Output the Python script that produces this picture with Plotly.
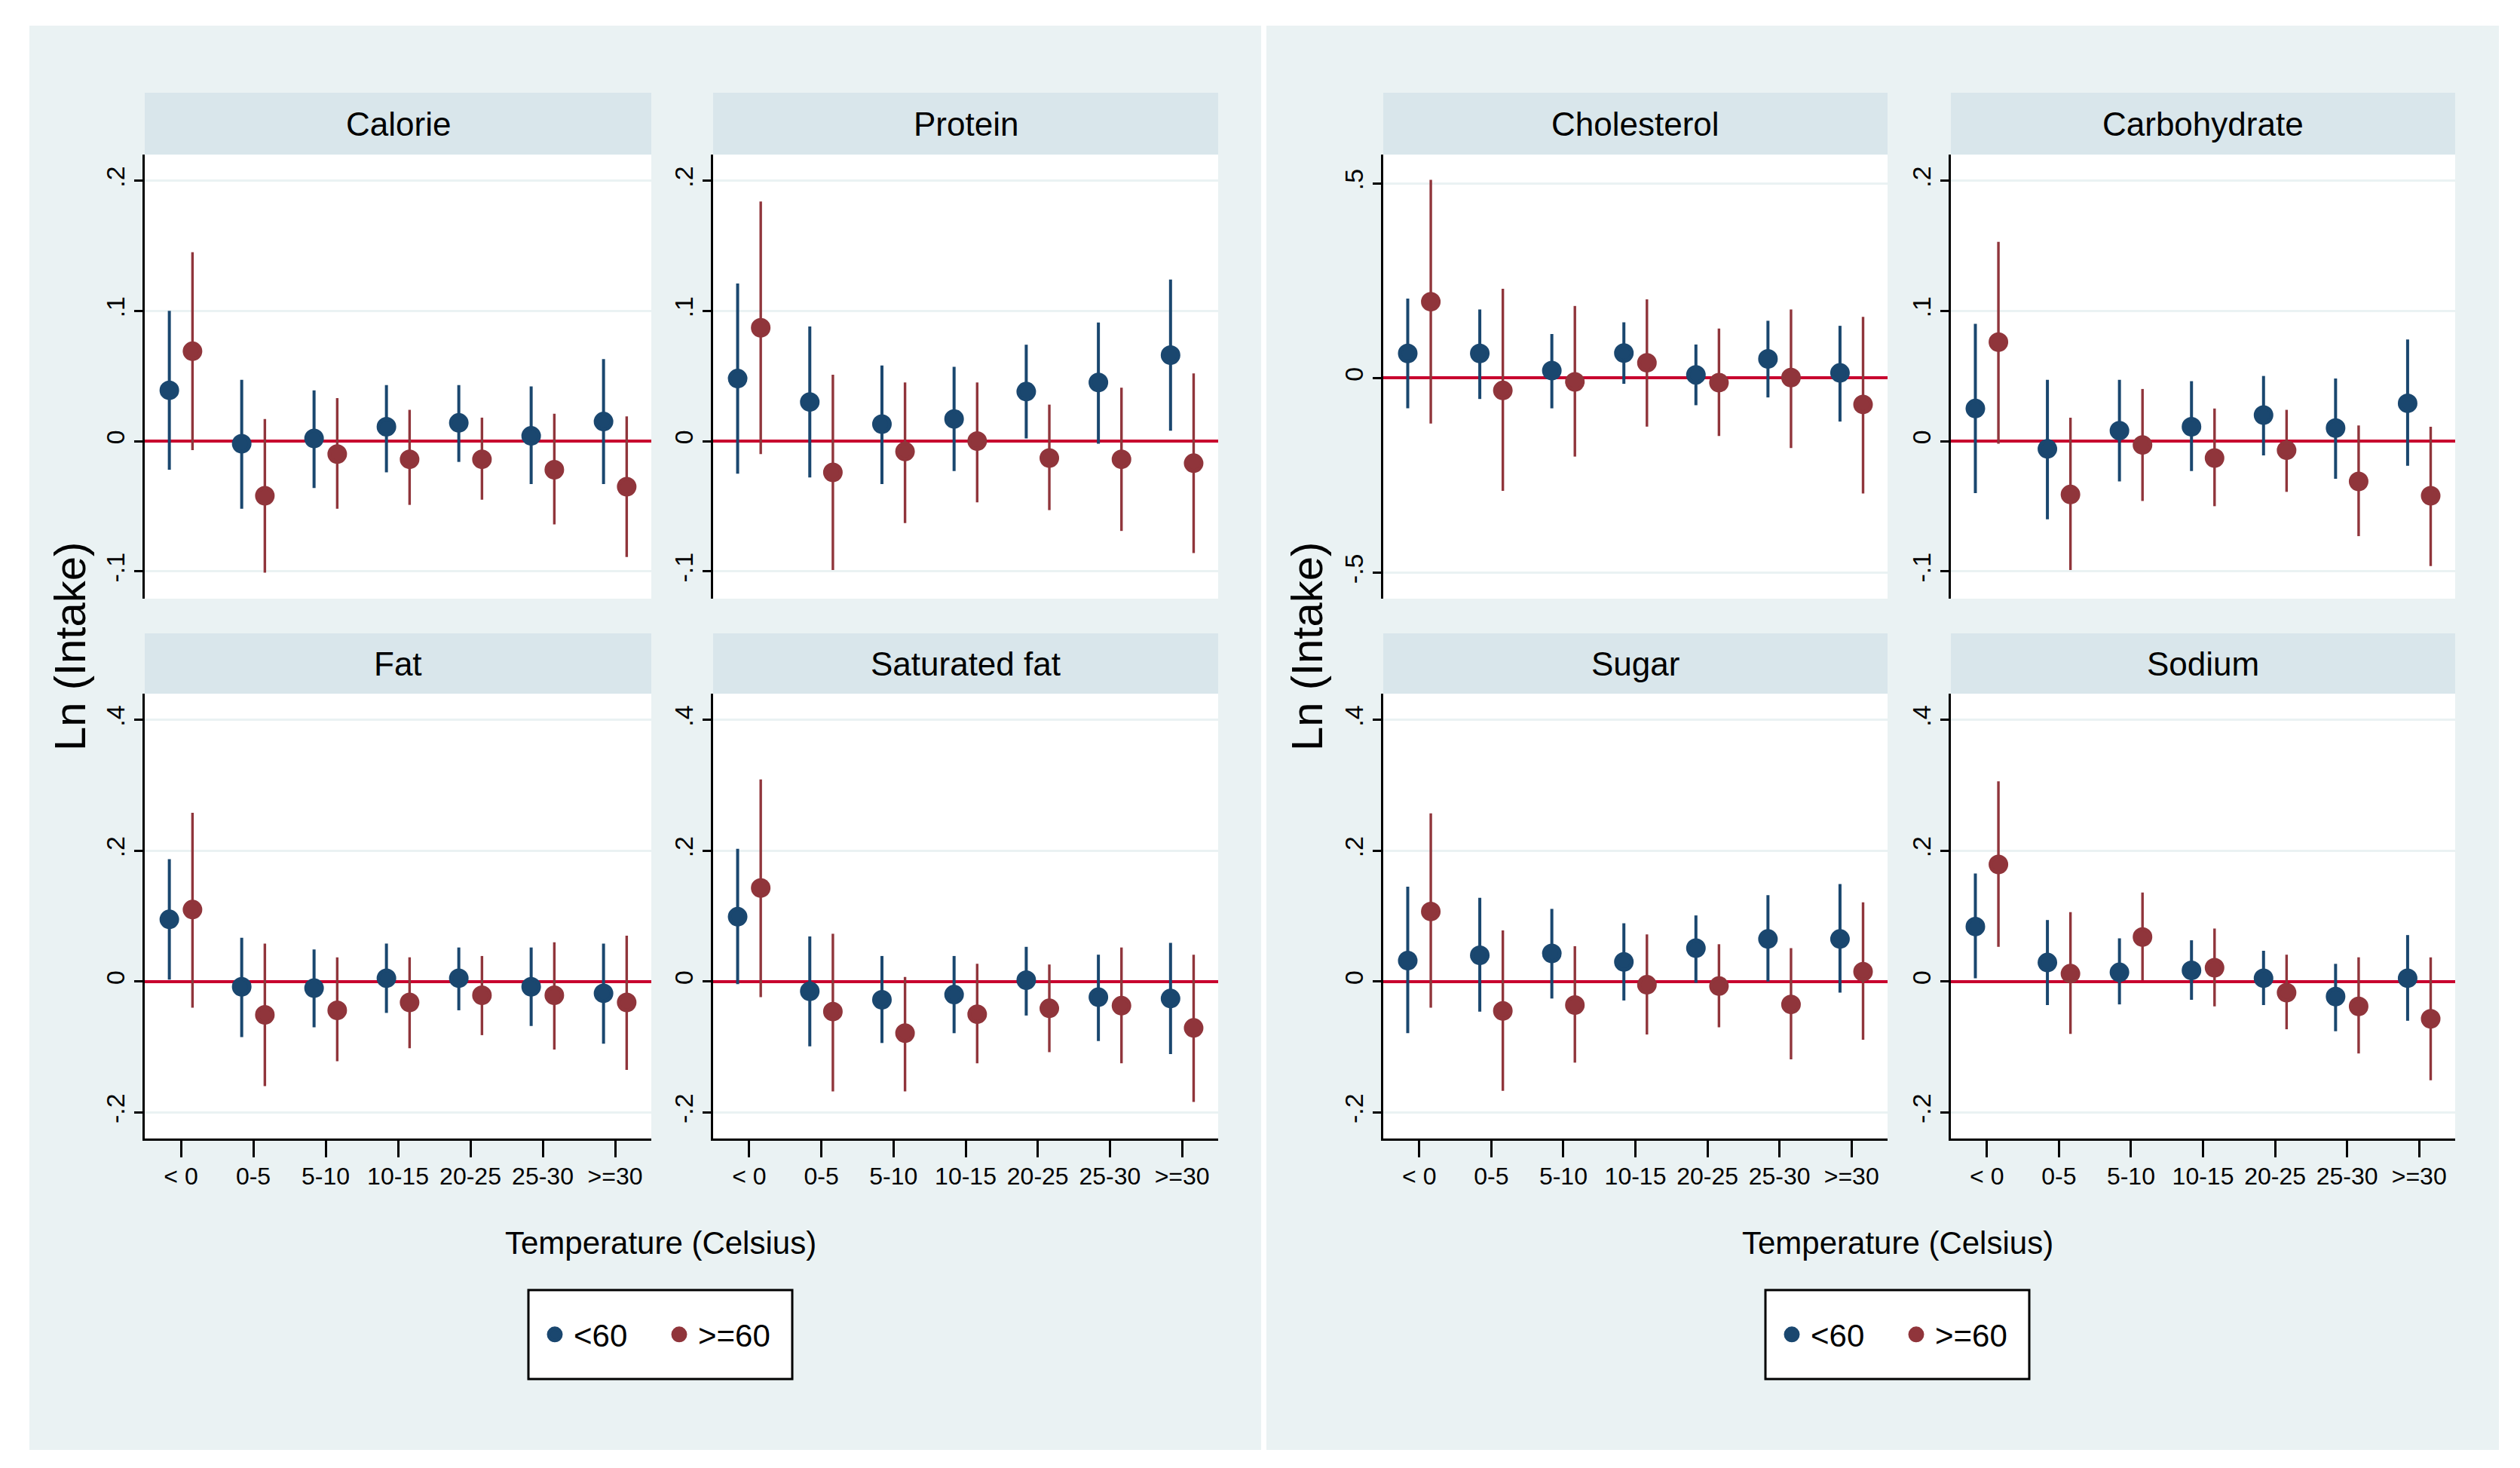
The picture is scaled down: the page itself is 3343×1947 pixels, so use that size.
import numpy as np
import plotly.graph_objects as go

W, H = 3343, 1947

# ---------------- data ----------------
temp_bins = ["< 0", "0-5", "5-10", "10-15", "20-25", "25-30", ">=30"]
groups = ["<60", ">=60"]

calorie_lt60 = [0.039, -0.002, 0.002, 0.011, 0.014, 0.004, 0.015]
calorie_lt60_lo = [-0.022, -0.052, -0.036, -0.024, -0.016, -0.033, -0.033]
calorie_lt60_hi = [0.100, 0.047, 0.039, 0.043, 0.043, 0.042, 0.063]
calorie_ge60 = [0.069, -0.042, -0.010, -0.014, -0.014, -0.022, -0.035]
calorie_ge60_lo = [-0.007, -0.101, -0.052, -0.049, -0.045, -0.064, -0.089]
calorie_ge60_hi = [0.145, 0.017, 0.033, 0.024, 0.018, 0.021, 0.019]

protein_lt60 = [0.048, 0.030, 0.013, 0.017, 0.038, 0.045, 0.066]
protein_lt60_lo = [-0.025, -0.028, -0.033, -0.023, 0.002, -0.002, 0.008]
protein_lt60_hi = [0.121, 0.088, 0.058, 0.057, 0.074, 0.091, 0.124]
protein_ge60 = [0.087, -0.024, -0.008, 0.000, -0.013, -0.014, -0.017]
protein_ge60_lo = [-0.010, -0.099, -0.063, -0.047, -0.053, -0.069, -0.086]
protein_ge60_hi = [0.184, 0.051, 0.045, 0.045, 0.028, 0.041, 0.052]

fat_lt60 = [0.095, -0.008, -0.010, 0.005, 0.005, -0.008, -0.018]
fat_lt60_lo = [0.003, -0.085, -0.070, -0.048, -0.044, -0.068, -0.095]
fat_lt60_hi = [0.187, 0.067, 0.049, 0.058, 0.052, 0.052, 0.058]
fat_ge60 = [0.110, -0.051, -0.044, -0.032, -0.021, -0.021, -0.032]
fat_ge60_lo = [-0.040, -0.160, -0.122, -0.102, -0.082, -0.104, -0.135]
fat_ge60_hi = [0.258, 0.058, 0.037, 0.037, 0.039, 0.060, 0.070]

satfat_lt60 = [0.099, -0.015, -0.028, -0.020, 0.002, -0.024, -0.026]
satfat_lt60_lo = [-0.004, -0.099, -0.094, -0.079, -0.052, -0.091, -0.111]
satfat_lt60_hi = [0.203, 0.069, 0.039, 0.039, 0.053, 0.041, 0.059]
satfat_ge60 = [0.143, -0.046, -0.079, -0.050, -0.041, -0.037, -0.071]
satfat_ge60_lo = [-0.024, -0.168, -0.168, -0.125, -0.108, -0.125, -0.184]
satfat_ge60_hi = [0.309, 0.073, 0.007, 0.027, 0.026, 0.052, 0.041]

chol_lt60 = [0.063, 0.063, 0.019, 0.064, 0.008, 0.049, 0.013]
chol_lt60_lo = [-0.078, -0.054, -0.078, -0.015, -0.070, -0.050, -0.112]
chol_lt60_hi = [0.204, 0.176, 0.113, 0.143, 0.086, 0.147, 0.134]
chol_ge60 = [0.196, -0.032, -0.010, 0.039, -0.012, 0.001, -0.068]
chol_ge60_lo = [-0.117, -0.290, -0.202, -0.125, -0.149, -0.180, -0.297]
chol_ge60_hi = [0.509, 0.229, 0.185, 0.202, 0.127, 0.176, 0.157]

carb_lt60 = [0.025, -0.006, 0.008, 0.011, 0.020, 0.010, 0.029]
carb_lt60_lo = [-0.040, -0.060, -0.031, -0.023, -0.011, -0.029, -0.019]
carb_lt60_hi = [0.090, 0.047, 0.047, 0.046, 0.050, 0.048, 0.078]
carb_ge60 = [0.076, -0.041, -0.003, -0.013, -0.007, -0.031, -0.042]
carb_ge60_lo = [-0.002, -0.099, -0.046, -0.050, -0.039, -0.073, -0.096]
carb_ge60_hi = [0.153, 0.018, 0.040, 0.025, 0.024, 0.012, 0.011]

sugar_lt60 = [0.032, 0.040, 0.043, 0.030, 0.051, 0.065, 0.065]
sugar_lt60_lo = [-0.079, -0.046, -0.026, -0.029, -0.002, 0.000, -0.017]
sugar_lt60_hi = [0.145, 0.128, 0.111, 0.089, 0.101, 0.132, 0.149]
sugar_ge60 = [0.107, -0.045, -0.036, -0.005, -0.007, -0.035, 0.015]
sugar_ge60_lo = [-0.040, -0.167, -0.124, -0.081, -0.070, -0.119, -0.089]
sugar_ge60_hi = [0.257, 0.078, 0.054, 0.072, 0.057, 0.051, 0.121]

sodium_lt60 = [0.084, 0.029, 0.014, 0.017, 0.005, -0.023, 0.005]
sodium_lt60_lo = [0.005, -0.036, -0.035, -0.028, -0.036, -0.076, -0.060]
sodium_lt60_hi = [0.165, 0.094, 0.066, 0.063, 0.047, 0.027, 0.071]
sodium_ge60 = [0.179, 0.012, 0.068, 0.021, -0.017, -0.038, -0.057]
sodium_ge60_lo = [0.053, -0.080, 0.002, -0.038, -0.073, -0.110, -0.151]
sodium_ge60_hi = [0.306, 0.106, 0.136, 0.081, 0.041, 0.037, 0.037]

panel_titles = ["Calorie", "Protein", "Fat", "Saturated fat",
                "Cholesterol", "Carbohydrate", "Sugar", "Sodium"]

panel_data = [
    (calorie_lt60, calorie_lt60_lo, calorie_lt60_hi, calorie_ge60, calorie_ge60_lo, calorie_ge60_hi),
    (protein_lt60, protein_lt60_lo, protein_lt60_hi, protein_ge60, protein_ge60_lo, protein_ge60_hi),
    (fat_lt60, fat_lt60_lo, fat_lt60_hi, fat_ge60, fat_ge60_lo, fat_ge60_hi),
    (satfat_lt60, satfat_lt60_lo, satfat_lt60_hi, satfat_ge60, satfat_ge60_lo, satfat_ge60_hi),
    (chol_lt60, chol_lt60_lo, chol_lt60_hi, chol_ge60, chol_ge60_lo, chol_ge60_hi),
    (carb_lt60, carb_lt60_lo, carb_lt60_hi, carb_ge60, carb_ge60_lo, carb_ge60_hi),
    (sugar_lt60, sugar_lt60_lo, sugar_lt60_hi, sugar_ge60, sugar_ge60_lo, sugar_ge60_hi),
    (sodium_lt60, sodium_lt60_lo, sodium_lt60_hi, sodium_ge60, sodium_ge60_lo, sodium_ge60_hi),
]

yticks_small = [-0.1, 0, 0.1, 0.2]
yticks_small_txt = ["-.1", "0", ".1", ".2"]
yticks_big = [-0.2, 0, 0.2, 0.4]
yticks_big_txt = ["-.2", "0", ".2", ".4"]
yticks_chol = [-0.5, 0, 0.5]
yticks_chol_txt = ["-.5", "0", ".5"]

# ---------------- style ----------------
BLUE = "#1A476F"
RED = "#90353B"
ZERO = "#C8002E"
BG = "#EAF2F3"
STRIP = "#D9E6EB"
FONT = "Liberation Sans, Arial, sans-serif"


def fx(px):
    return px / W


def fy(py):
    return 1 - py / H


cols_left = [(184, 856), (938, 1608)]
cols_right = [(1827, 2496), (2580, 3249)]
rows = [(197, 786), (912, 1502)]
headers = [(115, 197), (832, 912)]

layout_pos = []
for side in (cols_left, cols_right):
    for r in range(2):
        for c in range(2):
            layout_pos.append((side[c], r))

yspec = [
    ([-0.121, 0.220], yticks_small, yticks_small_txt),
    ([-0.121, 0.220], yticks_small, yticks_small_txt),
    ([-0.24, 0.44], yticks_big, yticks_big_txt),
    ([-0.24, 0.44], yticks_big, yticks_big_txt),
    ([-0.567, 0.574], yticks_chol, yticks_chol_txt),
    ([-0.121, 0.220], yticks_small, yticks_small_txt),
    ([-0.24, 0.44], yticks_big, yticks_big_txt),
    ([-0.24, 0.44], yticks_big, yticks_big_txt),
]

fig = go.Figure()
pos = np.arange(1, len(temp_bins) + 1)
OFF = 0.16

shapes = []
for px0, px1 in ((31, 1665), (1672, 3307)):
    shapes.append(dict(type="rect", xref="paper", yref="paper", x0=fx(px0), x1=fx(px1),
                       y0=fy(1915), y1=fy(26), fillcolor=BG, line=dict(width=0), layer="below"))

annotations = []
layout_axes = {}

for i, (title, d) in enumerate(zip(panel_titles, panel_data)):
    (x0, x1), r = layout_pos[i]
    y0, y1 = rows[r]
    h0, h1 = headers[r]
    n = i + 1
    xa = "x" if n == 1 else f"x{n}"
    ya = "y" if n == 1 else f"y{n}"
    legend_name = "legend" if i < 4 else "legend2"
    show_leg = i in (0, 4)

    lt, ltlo, lthi, ge, gelo, gehi = [np.array(v) for v in d]
    fig.add_trace(go.Scatter(
        x=pos - OFF, y=lt, mode="markers", name=groups[0], xaxis=xa, yaxis=ya,
        marker=dict(color=BLUE, size=21, symbol="circle", line=dict(color=BLUE, width=5)),
        error_y=dict(type="data", symmetric=False, array=lthi - lt, arrayminus=lt - ltlo,
                     color=BLUE, thickness=4, width=0),
        showlegend=show_leg, legend=legend_name))
    fig.add_trace(go.Scatter(
        x=pos + OFF, y=ge, mode="markers", name=groups[1], xaxis=xa, yaxis=ya,
        marker=dict(color=RED, size=21, symbol="circle", line=dict(color=RED, width=5)),
        error_y=dict(type="data", symmetric=False, array=gehi - ge, arrayminus=ge - gelo,
                     color=RED, thickness=3.4, width=0),
        showlegend=show_leg, legend=legend_name))

    shapes.append(dict(type="rect", xref="paper", yref="paper", x0=fx(x0), x1=fx(x1),
                       y0=fy(h1), y1=fy(h0), fillcolor=STRIP, line=dict(width=0), layer="below"))
    shapes.append(dict(type="rect", xref="paper", yref="paper", x0=fx(x0), x1=fx(x1),
                       y0=fy(y1), y1=fy(y0), fillcolor="white", line=dict(width=0), layer="below"))
    annotations.append(dict(text=title, xref="paper", yref="paper", x=fx((x0 + x1) / 2),
                            y=fy((h0 + h1) / 2), showarrow=False, xanchor="center", yanchor="middle",
                            font=dict(family=FONT, size=44, color="black")))

    bottom = (r == 1)
    yr, yt, ytt = yspec[i]
    layout_axes["xaxis" if n == 1 else f"xaxis{n}"] = dict(
        domain=[fx(x0), fx(x1)], anchor=ya, range=[0.5, 7.5],
        tickmode="array", tickvals=list(pos), ticktext=temp_bins, tickangle=0,
        showgrid=False, zeroline=False,
        showline=bottom, linecolor="black", linewidth=2.5,
        ticks="outside" if bottom else "", ticklen=22, tickwidth=2.5, tickcolor="black",
        showticklabels=bottom, ticklabelstandoff=-2,
        tickfont=dict(family=FONT, size=32, color="black"),
        fixedrange=True)
    layout_axes["yaxis" if n == 1 else f"yaxis{n}"] = dict(
        domain=[fy(y1), fy(y0)], anchor=xa, range=yr,
        tickmode="array", tickvals=yt, ticktext=ytt, tickangle=-90,
        showgrid=True, gridcolor=BG, gridwidth=3,
        zeroline=True, zerolinecolor=ZERO, zerolinewidth=4,
        showline=True, linecolor="black", linewidth=2.5,
        ticks="outside", ticklen=11, tickwidth=2.5, tickcolor="black",
        tickfont=dict(family=FONT, size=34, color="black"),
        fixedrange=True)

# shared axis titles and legend frames
for xc, ytitle_x in ((868, 84), (2509, 1725)):
    annotations.append(dict(text="Temperature (Celsius)", xref="paper", yref="paper",
                            x=fx(xc), y=fy(1640), showarrow=False, xanchor="center",
                            yanchor="middle", font=dict(family=FONT, size=42, color="black")))
    annotations.append(dict(text="Ln (Intake)", xref="paper", yref="paper",
                            x=fx(ytitle_x), y=fy(850), showarrow=False, textangle=-90,
                            xanchor="center", yanchor="middle",
                            font=dict(family=FONT, size=58, color="black")))
    shapes.append(dict(type="rect", xref="paper", yref="paper", x0=fx(xc - 175), x1=fx(xc + 175),
                       y0=fy(1821), y1=fy(1703), fillcolor="white",
                       line=dict(color="black", width=3), layer="below"))

leg_common = dict(orientation="h", xanchor="center", yanchor="middle",
                  bgcolor="rgba(0,0,0,0)", borderwidth=0,
                  font=dict(family=FONT, size=42, color="black"),
                  itemwidth=40, entrywidth=110)

fig.update_layout(
    width=W, height=H, autosize=False,
    margin=dict(l=0, r=0, t=0, b=0),
    paper_bgcolor="white", plot_bgcolor="white",
    shapes=shapes, annotations=annotations,
    legend=dict(x=fx(868), y=fy(1762), **leg_common),
    legend2=dict(x=fx(2509), y=fy(1762), **leg_common),
    **layout_axes,
)

fig.write_html("out.html")
